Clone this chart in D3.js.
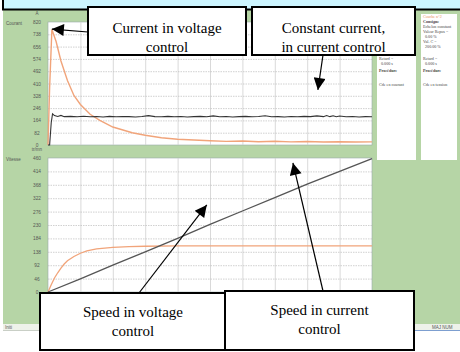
<!DOCTYPE html>
<html>
<head>
<meta charset="utf-8">
<script src="https://cdn.jsdelivr.net/npm/d3@7"></script>
<style>
  html, body { margin: 0; padding: 0; background: #fff; }
  svg { display: block; }
</style>
</head>
<body>
<svg id="chart" width="460" height="352"></svg>
<script>
// time axis (s), one grid division per unit
const timeTicks = [0, 1, 2, 3, 4, 5, 6, 7, 8, 9, 10];
const currentTicks = [0, 82, 164, 246, 328, 410, 492, 574, 656, 738, 820];
const speedTicks = [0, 46, 92, 138, 184, 230, 276, 322, 368, 414, 460];

// current, voltage control (orange)
const currentVoltage = [
  [0, 0], [0.05, 380], [0.12, 770], [0.25, 690], [0.4, 560], [0.6, 430], [0.8, 330],
  [1.0, 270], [1.3, 205], [1.6, 164], [2.0, 120], [2.6, 82], [3.0, 65], [3.5, 48],
  [4.0, 38], [4.5, 33], [5.0, 28], [5.5, 24], [6.0, 27], [6.5, 22], [7.0, 25],
  [7.5, 21], [8.0, 23], [8.5, 20], [9.0, 22], [9.5, 20], [10, 21]
];
// current, current control (black)
const currentCurrent = [
  [0, 0], [0.05, 0], [0.1, 150], [0.14, 208], [0.2, 196], [0.3, 190], [0.4, 197], [0.5, 189],
  [0.7, 191], [0.9, 188], [1.1, 192], [1.3, 188], [1.5, 190], [1.7, 187], [1.9, 191], [2.1, 188],
  [2.3, 190], [2.5, 189], [2.7, 187], [2.9, 190], [3.1, 196], [3.3, 189], [3.5, 188], [3.7, 191],
  [3.9, 188], [4.1, 190], [4.3, 187], [4.5, 189], [4.7, 191], [4.9, 188], [5.1, 194], [5.3, 188],
  [5.5, 190], [5.7, 187], [5.9, 189], [6.1, 191], [6.3, 188], [6.5, 190], [6.7, 195], [6.9, 188],
  [7.1, 189], [7.3, 187], [7.5, 190], [7.7, 188], [7.9, 191], [8.1, 189], [8.3, 194], [8.5, 189],
  [8.6, 196], [8.7, 189], [8.8, 195], [8.9, 188], [9.0, 193], [9.2, 188], [9.4, 190], [9.6, 187],
  [9.8, 189], [10, 188]
];
// speed, voltage control (orange)
const speedVoltage = [
  [0, 0], [0.1, 25], [0.2, 48], [0.3, 66], [0.4, 82], [0.5, 96], [0.6, 107], [0.8, 122],
  [1.0, 133], [1.2, 141], [1.5, 148], [2.0, 153], [2.5, 156], [3, 157], [4, 158], [5, 158],
  [6, 158], [7, 158], [8, 158], [9, 158], [10, 158]
];
// speed, current control (grey)
const speedCurrent = [
  [0, 0], [1, 45], [2, 92], [3, 138], [4, 184], [5, 232], [6, 278], [7, 324], [8, 370], [9, 414], [10, 458]
];

// info panels: header block (panel 2 only) and lower block
const panel2Header = ["Courbe n°2", "Consigne", "Echelon constant", "Valeur Repos =", "  0.00 %",
  "Val. C =", "  200.00 %"];
const panel1Lower = ["Retard =", "  0.000 s", "Procédure", "Cde en courant"];
const panel2Lower = ["Retard =", "  0.000 s", "Procédure", "Cde en tension"];

// callouts: text lines, box, arrow tip in data coords
const callouts = [
  { lines: ["Speed in voltage", "control"], box: [40, 293, 186, 57], from: [139, 293], plot: "bot", tip: [4.9, 299] },
  { lines: ["Speed in current", "control"], box: [225, 291, 189, 59], from: [323, 291], plot: "bot", tip: [7.56, 443] },
  { lines: ["Current in voltage", "control"], box: [88, 7, 158, 48], from: [88, 32], plot: "top", tip: [0.12, 773] },
  { lines: ["Constant current,", "in current control"], box: [252, 7, 163, 48], from: [323, 55], plot: "top", tip: [8.33, 367] }
];

const svg = d3.select("#chart");
const green = "#b6d5a6";
const orange = "#f1a47a";

// background
svg.append("rect").attr("x", 3).attr("y", 10).attr("width", 457).attr("height", 315).attr("fill", green);
svg.append("rect").attr("x", 3).attr("y", 324).attr("width", 457).attr("height", 6).attr("fill", "#eef2ea");
svg.append("line").attr("x1", 3).attr("x2", 372).attr("y1", 330.5).attr("y2", 330.5).attr("stroke", "#c9cfc6");
svg.append("line").attr("x1", 372).attr("x2", 460).attr("y1", 330.5).attr("y2", 330.5).attr("stroke", "#7d9fd0");
svg.append("text").attr("x", 5).attr("y", 329).attr("font-size", 4.5).attr("fill", "#555")
  .attr("font-family", "Liberation Sans").text("Initi");
svg.append("text").attr("x", 432).attr("y", 329).attr("font-size", 4.5).attr("fill", "#555")
  .attr("font-family", "Liberation Sans").text("MAJ  NUM");

// top cyan banner
svg.append("rect").attr("x", 3).attr("y", -5).attr("width", 460).attr("height", 14.5)
  .attr("fill", "#ccf5ff").attr("stroke", "#000").attr("stroke-width", 2);

const x = d3.scaleLinear().domain([0, 10]).range([48, 372]);
const yTop = d3.scaleLinear().domain([0, 820]).range([145, 22]);
const yBot = d3.scaleLinear().domain([0, 460]).range([292, 158]);

function drawPlot(y, ticks, label, unit) {
  const g = svg.append("g");
  g.append("rect").attr("x", x(0)).attr("y", y.range()[1])
    .attr("width", x(10) - x(0)).attr("height", y.range()[0] - y.range()[1])
    .attr("fill", "#fff").attr("stroke", "#9aa")
    .attr("stroke-width", 0.6);

  // vertical grid
  g.append("g").attr("transform", `translate(0,${y.range()[0]})`)
    .call(d3.axisBottom(x).tickValues(timeTicks.slice(1, -1)).tickSize(y.range()[1] - y.range()[0]).tickFormat(""))
    .call(a => a.select(".domain").remove())
    .call(a => a.selectAll("line").attr("stroke", "#cfcfcf").attr("stroke-width", 0.8));

  // horizontal grid + labels
  g.append("g").attr("transform", `translate(${x(0)},0)`)
    .call(d3.axisLeft(y).tickValues(ticks.slice(1, -1)).tickSize(x(0) - x(10)).tickFormat(""))
    .call(a => a.select(".domain").remove())
    .call(a => a.selectAll("line").attr("stroke", "#bdbdbd").attr("stroke-width", 0.7).attr("stroke-dasharray", "1.5,1"));

  g.append("g").attr("transform", `translate(40,0)`)
    .call(d3.axisLeft(y).tickValues(ticks).tickSize(0).tickPadding(0))
    .call(a => a.select(".domain").remove())
    .call(a => a.selectAll("text").attr("font-size", 4.8).attr("fill", "#555")
      .attr("font-family", "Liberation Sans").attr("text-anchor", "middle").attr("dx", -3));

  svg.append("text").attr("x", 6).attr("y", y.range()[1] + 3).attr("font-size", 4.5).attr("fill", "#555")
    .attr("font-family", "Liberation Sans").text(label);
  svg.append("text").attr("x", 37).attr("y", y.range()[1] - 7).attr("font-size", 4.5).attr("fill", "#555")
    .attr("font-family", "Liberation Sans").attr("text-anchor", "middle").text(unit);
}

drawPlot(yTop, currentTicks, "Courant", "A");
drawPlot(yBot, speedTicks, "Vitesse", "tr/mn");

const lineTop = d3.line().x(d => x(d[0])).y(d => yTop(d[1]));
const lineBot = d3.line().x(d => x(d[0])).y(d => yBot(d[1]));

svg.append("path").attr("d", lineTop(currentVoltage)).attr("fill", "none")
  .attr("stroke", orange).attr("stroke-width", 1.4);
svg.append("path").attr("d", lineTop(currentCurrent)).attr("fill", "none")
  .attr("stroke", "#333").attr("stroke-width", 1.1);
svg.append("path").attr("d", lineBot(speedVoltage)).attr("fill", "none")
  .attr("stroke", orange).attr("stroke-width", 1.3);
svg.append("path").attr("d", lineBot(speedCurrent)).attr("fill", "none")
  .attr("stroke", "#555").attr("stroke-width", 1.3);

// right info panels
const lowerY = [59.5, 64.5, 71.5, 85.5];
function panel(px, pw, header, lower) {
  svg.append("rect").attr("x", px).attr("y", 14).attr("width", pw).attr("height", 146).attr("fill", "#fff");
  const t = svg.append("g").attr("font-family", "Liberation Serif").attr("font-size", 4.1);
  header.forEach((s, i) => {
    t.append("text").attr("x", px + 2).attr("y", 17.5 + i * 5).attr("xml:space", "preserve")
      .attr("fill", i === 0 ? "#e8915c" : "#444")
      .attr("font-weight", s === "Consigne" ? "bold" : null)
      .text(s);
  });
  lower.forEach((s, i) => {
    t.append("text").attr("x", px + 2).attr("y", lowerY[i]).attr("xml:space", "preserve")
      .attr("fill", "#444")
      .attr("font-weight", s === "Procédure" ? "bold" : null)
      .text(s);
  });
}
panel(421, 36, panel2Header, panel2Lower);
panel(377, 39, [], panel1Lower);

// arrowhead
svg.append("defs").append("marker").attr("id", "ah")
  .attr("viewBox", "0 0 10 10").attr("refX", 10).attr("refY", 5)
  .attr("markerUnits", "userSpaceOnUse").attr("markerWidth", 15).attr("markerHeight", 12)
  .attr("orient", "auto")
  .append("path").attr("d", "M0,0L10,5L0,10z").attr("fill", "#000");

// callouts
callouts.forEach(c => {
  const [bx, by, bw, bh] = c.box;
  const y = c.plot === "top" ? yTop : yBot;
  svg.append("line").attr("x1", c.from[0]).attr("y1", c.from[1])
    .attr("x2", x(c.tip[0])).attr("y2", y(c.tip[1]))
    .attr("stroke", "#000").attr("stroke-width", 1.2).attr("marker-end", "url(#ah)");
  svg.append("rect").attr("x", bx).attr("y", by).attr("width", bw).attr("height", bh)
    .attr("fill", "#fff").attr("stroke", "#000").attr("stroke-width", 2);
  const base = c.plot === "top" ? by + 26 : by + 24;
  c.lines.forEach((s, i) => {
    svg.append("text").attr("x", bx + bw / 2).attr("y", base + i * 19)
      .attr("text-anchor", "middle").attr("font-family", "Liberation Serif")
      .attr("font-size", 15).attr("fill", "#000").text(s);
  });
});
</script>
</body>
</html>
